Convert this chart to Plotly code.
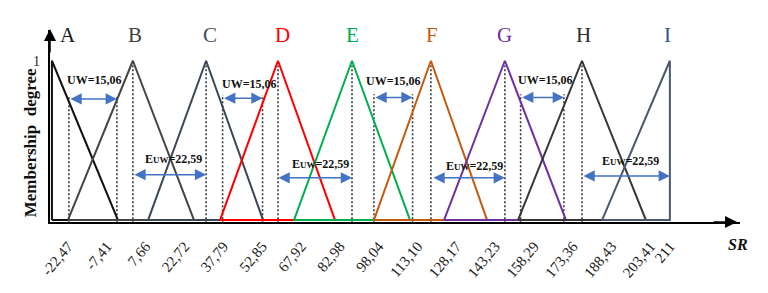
import plotly.graph_objects as go

# ---------------- data ----------------
set_names = ["A", "B", "C", "D", "E", "F", "G", "H", "I"]
left_foot = [-28.7, -22.5, 8.6, 36.5, 65.2, 96.2, 123.4, 152.1, 184.7]
peak = [-28.7, 2.7, 31.1, 59.0, 87.7, 118.3, 147.0, 176.9, 211.0]
right_foot = [-3.1, 26.4, 53.2, 81.1, 110.2, 140.1, 170.7, 201.7, 211.0]
membership_shape = [0, 1, 0, 0]

label_x = [-22.5, 3.5, 32.6, 60.9, 87.7, 118.7, 147.0, 177.3, 209.9]

tick_values = [-22.47, -7.41, 7.66, 22.72, 37.79, 52.85, 67.92, 82.98, 98.04,
               113.10, 128.17, 143.23, 158.29, 173.36, 188.43, 203.41, 211]
tick_labels = ["-22,47", "-7,41", "7,66", "22,72", "37,79", "52,85", "67,92",
               "82,98", "98,04", "113,10", "128,17", "143,23", "158,29",
               "173,36", "188,43", "203,41", "211"]

uw_left = [-22.1, 37.5, 96.2, 153.1]
uw_right = [-3.5, 53.0, 111.2, 169.9]
uw_level = [0.76, 0.765, 0.77, 0.77]
uw_text_x = [-12.0, 48.1, 103.6, 162.6]
uw_text_y = [0.88, 0.855, 0.873, 0.88]
uw_text = "UW=15,06"

euw_left = [2.7, 58.6, 118.7, 176.9]
euw_right = [31.1, 87.7, 147.0, 211.0]
euw_level = [0.285, 0.265, 0.265, 0.277]
euw_text_x = [18.6, 75.3, 135.4, 195.9]
euw_text_y = [0.386, 0.35, 0.337, 0.373]
euw_text = "E<span style='font-size:9px'>UW</span>=22,59"

# ---------------- styles ----------------
line_colors = ["#111111", "#454545", "#3b4656", "#ff0000", "#00b050",
               "#c55a11", "#7030a0", "#363636", "#4a5a70"]
label_colors = ["#1a1a1a", "#404040", "#3e4a5e", "#ff0000", "#00b050",
                "#c55a11", "#7030a0", "#2e2e2e", "#2f5597"]
SERIF = "Liberation Serif"
BLUE = "#4472c4"

fig = go.Figure()

# dotted guide lines
dx, dy = [], []
for xl, xr, lv in zip(uw_left, uw_right, uw_level):
    for xv in (xl, xr):
        dx += [xv, xv, None]
        dy += [-0.02, lv + 0.02, None]
for xv in peak[1:8]:
    dx += [xv, xv, None]
    dy += [-0.02, 0.97, None]
fig.add_trace(go.Scatter(x=dx, y=dy, mode="lines",
                         line=dict(color="#3a3a3a", width=1.6, dash="2px,2px"),
                         hoverinfo="skip", showlegend=False))

# triangles
for i, name in enumerate(set_names):
    xs = [left_foot[i], peak[i], right_foot[i], left_foot[i]]
    fig.add_trace(go.Scatter(x=xs, y=membership_shape, mode="lines",
                             line=dict(color=line_colors[i], width=2),
                             name=name, showlegend=False, hoverinfo="skip"))

ann = []
# set letters
for i, name in enumerate(set_names):
    ann.append(dict(x=label_x[i], y=1.163, xref="x", yref="y", text=name,
                    showarrow=False, font=dict(family=SERIF, size=21, color=label_colors[i])))

# UW arrows and texts
for xl, xr, lv, tx, ty in zip(uw_left, uw_right, uw_level, uw_text_x, uw_text_y):
    ann.append(dict(x=xr, y=lv, ax=xl, ay=lv, xref="x", yref="y", axref="x", ayref="y",
                    text="", showarrow=True, arrowside="end+start",
                    arrowhead=2, startarrowhead=2, arrowsize=1.5, startarrowsize=1.5,
                    arrowwidth=1.5, arrowcolor=BLUE, standoff=0, startstandoff=0))
    ann.append(dict(x=tx, y=ty, xref="x", yref="y", text="<b>" + uw_text + "</b>",
                    showarrow=False, font=dict(family=SERIF, size=12, color="#111111")))

# EUW arrows and texts
for xl, xr, lv, tx, ty in zip(euw_left, euw_right, euw_level, euw_text_x, euw_text_y):
    ann.append(dict(x=xr, y=lv, ax=xl, ay=lv, xref="x", yref="y", axref="x", ayref="y",
                    text="", showarrow=True, arrowside="end+start",
                    arrowhead=2, startarrowhead=2, arrowsize=1.5, startarrowsize=1.5,
                    arrowwidth=1.5, arrowcolor=BLUE, standoff=0, startstandoff=0))
    ann.append(dict(x=tx, y=ty, xref="x", yref="y", text="<b>" + euw_text + "</b>",
                    showarrow=False, font=dict(family=SERIF, size=12, color="#111111")))

# axis arrows
ann.append(dict(x=0.9957, y=0, xref="paper", yref="paper", ax=-25, ay=0, axref="pixel", ayref="pixel",
                text="", showarrow=True, arrowhead=2, arrowsize=1.6, arrowwidth=1.5,
                arrowcolor="#000000", standoff=0))
ann.append(dict(x=0, y=1.005, xref="paper", yref="paper", ax=0, ay=25, axref="pixel", ayref="pixel",
                text="", showarrow=True, arrowhead=2, arrowsize=1.6, arrowwidth=1.5,
                arrowcolor="#000000", standoff=0))

# axis titles
ann.append(dict(x=-0.029, y=0.415, xref="paper", yref="paper", text="<b>Membership  degree</b>",
                xanchor="center", yanchor="middle",
                textangle=-90, showarrow=False, font=dict(family=SERIF, size=17, color="#111111")))
ann.append(dict(x=0.997, y=-0.115, xref="paper", yref="paper", text="<b><i>SR</i></b>",
                xanchor="center", yanchor="middle",
                showarrow=False, font=dict(family=SERIF, size=16, color="#111111")))

# page body has an 8px margin: size figure so the plot area lands where the reference has it
fig.update_layout(
    width=760, height=285,
    margin=dict(l=42, r=28, t=22, b=63),
    paper_bgcolor="white", plot_bgcolor="white",
    showlegend=False,
    annotations=ann,
    xaxis=dict(range=[-29.45, 238.2], showgrid=False, zeroline=False,
               showline=True, linecolor="#000000", linewidth=1.5,
               tickmode="array", tickvals=tick_values, ticktext=tick_labels,
               tickangle=-50, ticks="", ticklabelstandoff=8,
               tickfont=dict(family=SERIF, size=15, color="#222222")),
    yaxis=dict(range=[-0.012, 1.193], showgrid=False, zeroline=False,
               showline=True, linecolor="#000000", linewidth=1.5,
               tickmode="array", tickvals=[1], ticktext=["1"], ticks="",
               ticklabelstandoff=5,
               tickfont=dict(family=SERIF, size=15, color="#333333")),
)

fig.write_html("out.html")
